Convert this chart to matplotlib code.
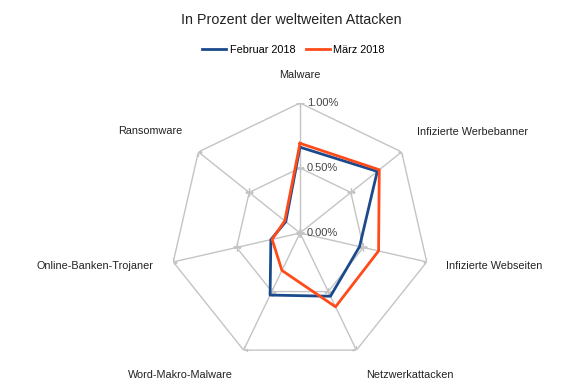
import numpy as np
import matplotlib
matplotlib.use("Agg")
import matplotlib.pyplot as plt

plt.rcParams["font.family"] = ["Liberation Sans", "DejaVu Sans"]

# Werte in Prozent, im Uhrzeigersinn ab "Malware"
categories = ["Malware", "Infizierte Werbebanner", "Infizierte Webseiten",
              "Netzwerkattacken", "Word-Makro-Malware", "Online-Banken-Trojaner",
              "Ransomware"]
feb_2018 = [0.66, 0.76, 0.47, 0.54, 0.53, 0.23, 0.14]
maerz_2018 = [0.69, 0.78, 0.62, 0.63, 0.32, 0.22, 0.15]
ring_values = [0.0, 0.5, 1.0]
ring_labels = ["0.00%", "0.50%", "1.00%"]

# Label-Versatz in Pixel zum äußeren Eckpunkt (x, y, ha)
label_offsets = [(0, 28, "center"), (15, 20, "left"), (19, -4, "left"),
                 (10, -25, "left"), (-11, -25, "right"), (-20, -4, "right"),
                 (-16, 21, "right")]

blue = "#1b4a8c"
orange = "#ff4a1a"
grid_color = "#c4c4c4"

fig = plt.figure(figsize=(5.8, 3.9), dpi=100)
ax = fig.add_axes([170 / 580, 27 / 390, 260 / 580, 260 / 390], projection="polar")
ax.set_theta_zero_location("N")
ax.set_theta_direction(-1)
ax.set_ylim(0, 1.0)
ax.grid(False)
ax.spines["polar"].set_visible(False)
ax.set_xticks([])
ax.set_yticks([])
ax.patch.set_alpha(0)

n = len(categories)
theta = np.arange(n) * 2 * np.pi / n
theta_closed = np.append(theta, theta[0])

# Gitter: Siebenecke und Speichen
for rv in ring_values[1:]:
    ax.plot(theta_closed, [rv] * (n + 1), color=grid_color, lw=1.0, zorder=1)
for t in theta:
    ax.plot([t, t], [0, 1.0], color=grid_color, lw=1.0, zorder=1)
    # kleine Tickmarken an den Ecken
    for rv in ring_values:
        ax.plot([t], [rv], marker="+", ms=6, color=grid_color, mew=1.0, zorder=1)

# Serien
ax.plot(theta_closed, feb_2018 + feb_2018[:1], color=blue, lw=2.0,
        label="Februar 2018", zorder=3)
ax.plot(theta_closed, maerz_2018 + maerz_2018[:1], color=orange, lw=2.0,
        label="März 2018", zorder=4)

# Achsenbeschriftung der Ringe
for rv, lab in zip(ring_values, ring_labels):
    ax.annotate(lab, xy=(0, rv), xytext=(5, 0), textcoords="offset points",
                fontsize=8, color="#444444", va="center", ha="left",
                annotation_clip=False)

# Kategorien
for t, cat, (dx, dy, ha) in zip(theta, categories, label_offsets):
    ax.annotate(cat, xy=(t, 1.0), xytext=(dx * 0.72, dy * 0.72),
                textcoords="offset points", fontsize=7.8, color="#222222",
                ha=ha, va="center", annotation_clip=False)

fig.text(0.503, 0.948, "In Prozent der weltweiten Attacken", ha="center",
         va="center", fontsize=10.3, color="#222222")
fig.legend(loc="center", bbox_to_anchor=(0.506, 0.872), ncol=2, frameon=False,
           fontsize=7.8, handlelength=2.2, columnspacing=1.0, handletextpad=0.3)

fig.savefig("out.png", dpi=100)
